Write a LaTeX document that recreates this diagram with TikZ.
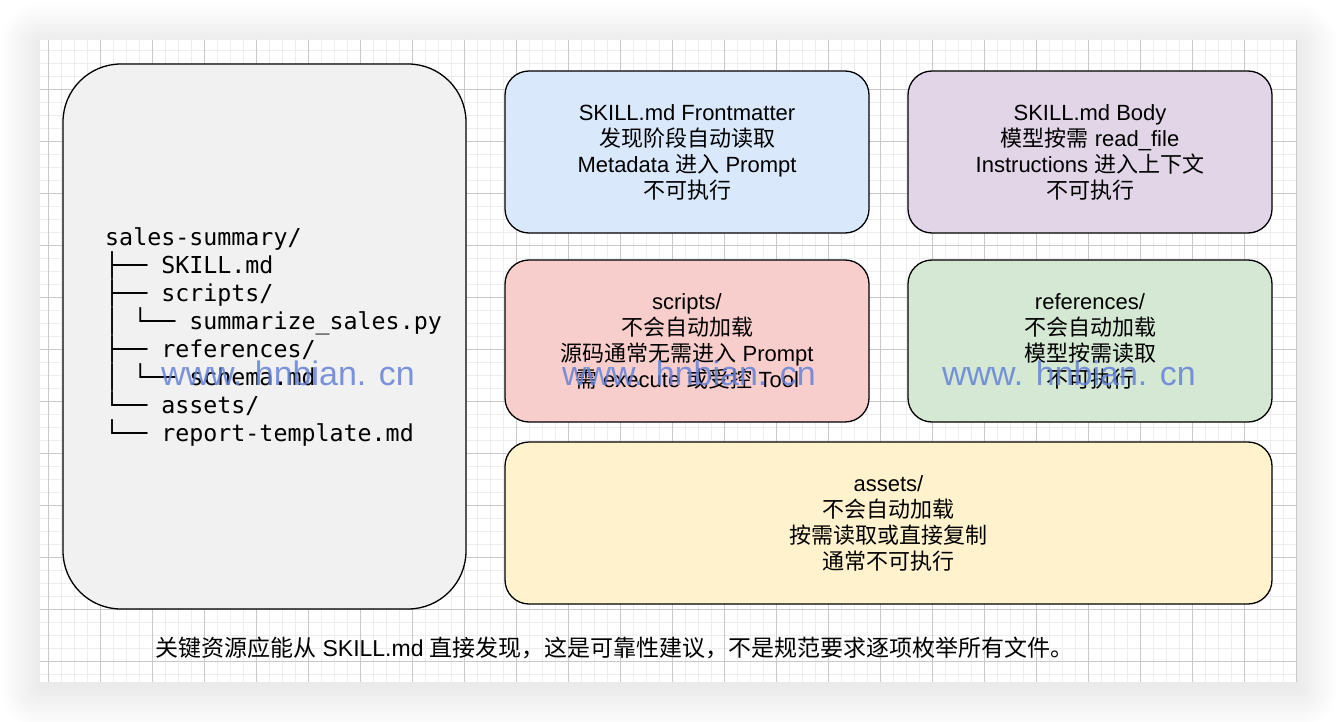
\documentclass[tikz,border=0pt]{standalone}
\usepackage{fontspec}
\setmainfont{Liberation Sans}
\setmonofont{DejaVu Sans Mono}
\newfontfamily\zhfont{Noto Sans CJK SC}
\newcommand{\zh}[1]{{\zhfont #1}}
\usetikzlibrary{positioning}

\definecolor{treefill}{HTML}{F1F1F1}
\definecolor{bluefill}{HTML}{DAE8FC}
\definecolor{purplefill}{HTML}{E1D5E7}
\definecolor{redfill}{HTML}{F8CECC}
\definecolor{greenfill}{HTML}{D5E8D4}
\definecolor{yellowfill}{HTML}{FFF2CC}
\definecolor{wmblue}{HTML}{6482D8}

\tikzset{
  card/.style={
    draw,
    line width=1.3pt,
    rounded corners=24pt,
    align=center,
    minimum width=364pt,
    minimum height=162pt,
    inner sep=0pt,
    outer sep=0pt,
    font=\fontsize{22}{26}\selectfont
  },
  treebox/.style={
    draw,
    line width=1.3pt,
    rounded corners=58pt,
    fill=treefill,
    minimum width=403pt,
    minimum height=545pt,
    inner sep=0pt
  },
  treetext/.style={
    align=left,
    inner sep=0pt,
    font=\ttfamily\fontsize{23.3}{28}\selectfont
  },
  caption/.style={
    inner sep=0pt,
    font=\fontsize{23}{28}\selectfont
  },
  watermark/.style={
    text=wmblue,
    text opacity=0.85,
    inner sep=0pt,
    font=\fontsize{34}{34}\selectfont
  },
  minorline/.style={draw=black!7, line width=1.5pt},
  majorline/.style={draw=black!21, line width=1pt}
}

\begin{document}
\begin{tikzpicture}[x=1pt, y=-1pt, node distance=27pt]

\useasboundingbox (0,0) rectangle (1338,722);

% --- canvas with soft shadow and grid ---
\foreach \s in {1,...,20}
  \fill[black, opacity=0.005, rounded corners={2pt*\s}] ({40-2*\s},{44-2*\s}) rectangle ({1297+2*\s},{688+2*\s});
\fill[white] (40,40) rectangle (1297,682);
\begin{scope}
  \clip (40,40) rectangle (1297,682);
  \foreach \k in {-1,...,96} \draw[minorline] ({48.3+13*\k},40) -- ++(0,642);
  \foreach \k in {-1,...,50} \draw[minorline] (40,{37.3+13*\k}) -- ++(1257,0);
  \foreach \k in {0,...,24} \draw[majorline] ({48.3+52*\k},40) -- ++(0,642);
  \foreach \k in {0,...,13} \draw[majorline] (40,{37.3+52*\k}) -- ++(1257,0);
\end{scope}

% --- file tree ---
\node[treebox] (tree) at (264.5,336.5) {};
\node[treetext, anchor=west] (files) at (105,337) {sales-summary/\\
├── SKILL.md\\
├── scripts/\\
│ └── summarize\_sales.py\\
├── references/\\
│ └── schema.md\\
└── assets/\\
└── report-template.md};

% --- loading behaviour cards ---
\node[card, fill=bluefill] (front) at (687,152) {SKILL.md Frontmatter\\
\zh{发现阶段自动读取}\\
Metadata \zh{进入} Prompt\\
\zh{不可执行}};

\node[card, fill=purplefill, right=39pt of front] (body) {SKILL.md Body\\
\zh{模型按需} read\_file\\
Instructions \zh{进入上下文}\\
\zh{不可执行}};

\node[card, fill=redfill, below=of front] (scripts) {scripts/\\
\zh{不会自动加载}\\
\zh{源码通常无需进入} Prompt\\
\zh{需} execute \zh{或受控} Tool};

\node[card, fill=greenfill, below=of body] (refs) {references/\\
\zh{不会自动加载}\\
\zh{模型按需读取}\\
\zh{不可执行}};

\node[card, fill=yellowfill, minimum width=767pt,
      below=20pt of scripts.south west, anchor=north west] (assets) {assets/\\
\zh{不会自动加载}\\
\zh{按需读取或直接复制}\\
\zh{通常不可执行}};

% --- footnote ---
\node[caption, anchor=west] (note) at (155,648) {\zh{关键资源应能从} SKILL.md \zh{直接发现，这是可靠性建议，不是规范要求逐项枚举所有文件。}};

% --- watermark ---
\foreach \x [count=\i] in {288,689,1069}
  \node[watermark] (wm\i) at (\x,373) {www. hnbian. cn};

\end{tikzpicture}
\end{document}
